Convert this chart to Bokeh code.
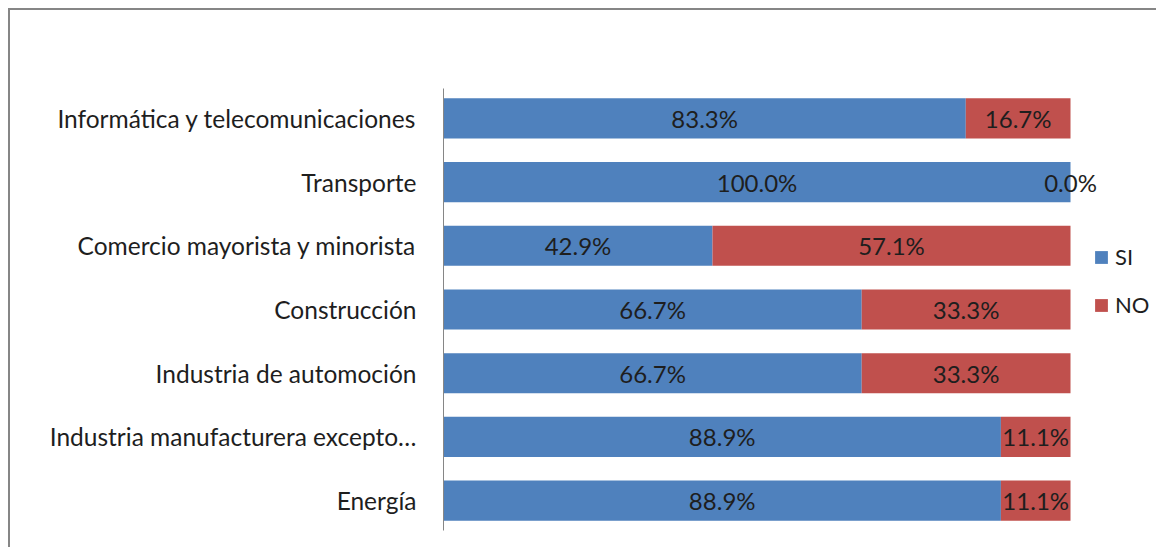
from bokeh.plotting import figure
from bokeh.models import ColumnDataSource, FactorRange, Range1d, Legend, LegendItem
from bokeh.core.properties import value
from bokeh.embed import file_html
from bokeh.resources import INLINE

categories = ["Informática y telecomunicaciones", "Transporte",
              "Comercio mayorista y minorista", "Construcción",
              "Industria de automoción", "Industria manufacturera excepto…",
              "Energía"]
si = [83.3, 100.0, 42.9, 66.7, 66.7, 88.9, 88.9]
no = [16.7, 0.0, 57.1, 33.3, 33.3, 11.1, 11.1]
series = ["SI", "NO"]
colors = ["#4F81BD", "#C0504D"]

FONT = "Lato"
TXT = "#1e1e1e"

src = ColumnDataSource(dict(
    cat=categories, SI=si, NO=no,
    si_mid=[s / 2 for s in si],
    no_mid=[s + n / 2 for s, n in zip(si, no)],
    si_lab=[f"{s:.1f}%" for s in si],
    no_lab=[f"{n:.1f}%" for n in no],
))

# frame: x from 443 to 1158 px, where value 100 sits at 1070 px
x_end = 100 * (1158 - 443) / (1070 - 443)

p = figure(width=1148, height=539, output_backend="svg", toolbar_location=None,
           y_range=FactorRange(factors=list(reversed(categories)),
                               range_padding=-0.03, range_padding_units="absolute"),
           x_range=Range1d(0, x_end), x_axis_location=None,
           min_border_left=433, min_border_top=78, min_border_bottom=19,
           min_border_right=0)
p.margin = (8, 0, 0, 8)
p.styles = {"border-top": "2px solid #868686", "border-left": "2px solid #868686"}
p.outline_line_color = None
p.grid.visible = False

rs = p.hbar_stack(series, y="cat", height=0.63, color=colors, source=src, line_color=None)

p.text(x="si_mid", y="cat", text="si_lab", source=src, text_align="center",
       text_baseline="middle", text_font=value(FONT), text_font_size="24px", text_color=TXT)
p.text(x="no_mid", y="cat", text="no_lab", source=src, text_align="center",
       text_baseline="middle", text_font=value(FONT), text_font_size="24px", text_color=TXT)

ax = p.yaxis[0]
ax.axis_line_color = "#868686"
ax.axis_line_width = 1
ax.major_tick_line_color = None
ax.minor_tick_line_color = None
ax.major_tick_out = 0
ax.major_tick_in = 0
ax.major_label_standoff = 27
ax.major_label_text_font = FONT
ax.major_label_text_font_size = "24.5px"
ax.major_label_text_color = TXT

legend = Legend(items=[LegendItem(label=s, renderers=[r]) for s, r in zip(series, rs)],
                location=(650, 212), glyph_width=16, glyph_height=16, label_height=20,
                spacing=21, padding=0, margin=0, label_standoff=6,
                border_line_color=None, background_fill_alpha=0,
                label_text_font=FONT, label_text_font_size="22px", label_text_color=TXT)
p.add_layout(legend, "center")

open("out.html", "w").write(file_html(p, INLINE))
